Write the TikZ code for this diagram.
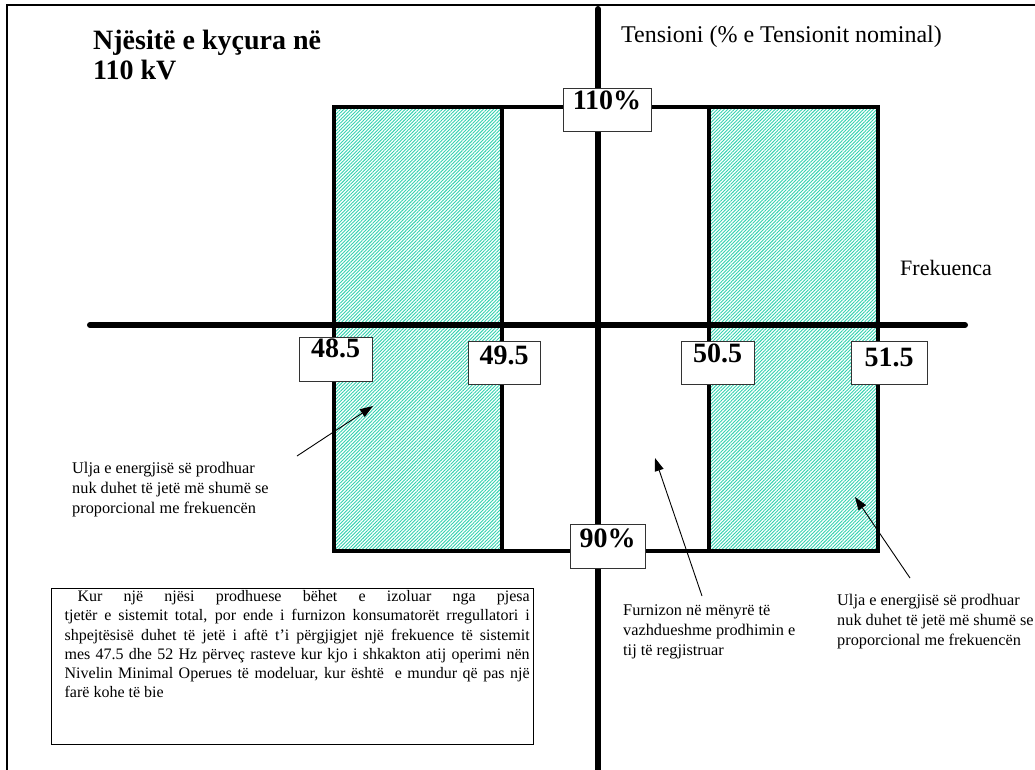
\documentclass[tikz,border=0pt]{standalone}
\usepackage{fontspec}
\setmainfont{Liberation Serif}
\usetikzlibrary{patterns.meta,arrows.meta}
\definecolor{hatch}{RGB}{50,210,175}
\begin{document}
\begin{tikzpicture}[x=1pt,y=-1pt,
  frame/.style={line width=1.6pt},
  axis/.style={line width=6pt, line cap=round},
  gridline/.style={line width=4.5pt},
  hatched/.style={pattern={Lines[angle=45,distance=2.4pt,line width=0.9pt]}, pattern color=hatch},
  valbox/.style={draw=black!80, line width=0.8pt, fill=white, font=\fontsize{28}{30}\selectfont\bfseries, inner xsep=0pt, inner ysep=0pt, anchor=north},
  note/.style={font=\fontsize{16.3}{20}\selectfont, align=left, anchor=north west, inner sep=0pt},
  arr/.style={line width=0.9pt, -{Triangle[length=13pt,width=9pt]}},
  parafont/.style={font=\fontsize{16}{19.2}\selectfont}
]
\useasboundingbox (0,0) rectangle (1035,769);
\fill[white] (0,0) rectangle (1035,769);
\draw[frame] (7,775) -- (7,5) -- (1040,5);

\fill[hatched] (334,107) rectangle (502,551);
\fill[hatched] (709,107) rectangle (878,551);
\draw[gridline] (334,107) rectangle (878,551);
\draw[gridline] (502,107) -- (502,551);
\draw[gridline] (709,107) -- (709,551);
\draw[axis] (598,9) -- (598,780);
\draw[axis] (90,325) -- (965,325);

\node[valbox, minimum width=88pt, text height=21pt, text depth=22pt] (v110) at (607,88) {110\%};
\node[valbox, minimum width=75pt, text height=23pt, text depth=21pt] (v90) at (607.5,524) {90\%};
\node[valbox, minimum width=73pt, text height=20pt, text depth=24pt] (f485) at (335.5,337) {48.5};
\node[valbox, minimum width=72pt, text height=23pt, text depth=20pt] (f495) at (504,341) {49.5};
\node[valbox, minimum width=73pt, text height=21pt, text depth=22pt] (f505) at (717.5,341) {50.5};
\node[valbox, minimum width=76pt, text height=25pt, text depth=18pt] (f515) at (889,341) {51.5};

\node[anchor=north west, inner sep=0pt, align=left, font=\fontsize{28}{30}\selectfont\bfseries] (title) at (93,30) {Njësitë e kyçura në\\110 kV};
\node[anchor=base west, inner sep=0pt, font=\fontsize{24}{26}\selectfont] (tens) at (621,42) {Tensioni (\% e Tensionit nominal)};
\node[anchor=base west, inner sep=0pt, font=\fontsize{22}{24}\selectfont] (frek) at (900,275) {Frekuenca};

\node[note] (nleft) at (72,462) {Ulja e energjisë së prodhuar\\nuk duhet të jetë më shumë se\\proporcional me frekuencën};
\node[note] (nmid) at (623,604) {Furnizon në mënyrë të\\vazhdueshme prodhimin e\\tij të regjistruar};
\node[note] (nright) at (837,594) {Ulja e energjisë së prodhuar\\nuk duhet të jetë më shumë se\\proporcional me frekuencën};

\coordinate (tailL) at (297,456);
\coordinate (tipL) at (373,406);
\coordinate (tailM) at (702,596);
\coordinate (tipM) at (655,458);
\coordinate (tailR) at (910,578);
\coordinate (tipR) at (855,497);
\draw[arr] (tailL) -- (tipL);
\draw[arr] (tailM) -- (tipM);
\draw[arr] (tailR) -- (tipR);

\node[draw, line width=1.3pt, anchor=north west, inner xsep=4pt, inner ysep=2pt, parafont] (para) at (51,588)
 {\parbox[t][152pt][t]{474pt}{\fontsize{16}{19.2}\selectfont
 \hspace*{22pt}\makebox[452pt][s]{Kur një njësi prodhuese bëhet e izoluar nga pjesa}\\
 \hspace*{9pt}\makebox[465pt][s]{tjetër e sistemit total, por ende i furnizon konsumatorët rregullatori i}\\
 \hspace*{9pt}\makebox[465pt][s]{shpejtësisë duhet të jetë i aftë t’i përgjigjet një frekuence të sistemit}\\
 \hspace*{9pt}\makebox[465pt][s]{mes 47.5 dhe 52 Hz përveç rasteve kur kjo i shkakton atij operimi nën}\\
 \hspace*{9pt}\makebox[465pt][s]{Nivelin Minimal Operues të modeluar, kur është \ e mundur që pas një}\\
 \hspace*{9pt}farë kohe të bie}};
\end{tikzpicture}
\end{document}
